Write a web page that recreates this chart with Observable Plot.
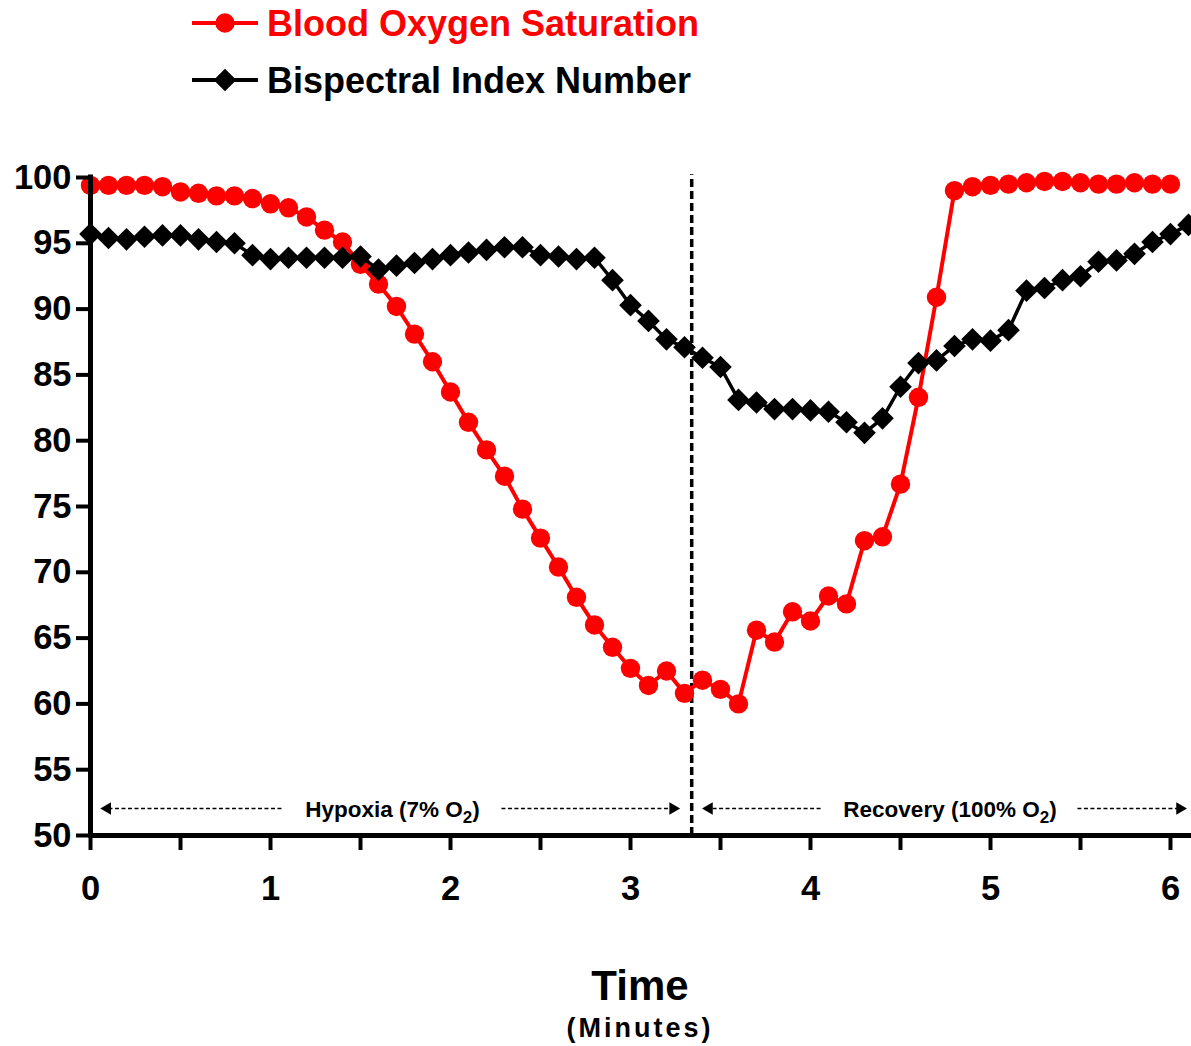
<!DOCTYPE html>
<html>
<head>
<meta charset="utf-8">
<script src="https://cdn.jsdelivr.net/npm/d3@7"></script>
<script src="https://cdn.jsdelivr.net/npm/@observablehq/plot@0.6"></script>
<style>
  body { margin: 0; background: #fff; }
  #wrap { position: relative; width: 1191px; height: 1046px; overflow: hidden; background: #fff;
          font-family: "Liberation Sans", Arial, sans-serif; }
  #legend { position: absolute; left: 0; top: 0; }
  #chart { position: absolute; left: 0; top: 130px; }
  .xt { position: absolute; left: 440px; width: 400px; text-align: center; font-weight: bold; color: #000; }
  #xtitle { top: 965px; font-size: 42px; line-height: 42px; }
  #xsub { top: 1015px; font-size: 27px; line-height: 27px; letter-spacing: 3px; }
</style>
</head>
<body>
<div id="wrap">
  <svg id="legend" width="1191" height="130"></svg>
  <div id="chart"></div>
  <div class="xt" id="xtitle">Time</div>
  <div class="xt" id="xsub">(Minutes)</div>
</div>
<script>
// ---- data ----
const minutes = [0.0,0.1,0.2,0.3,0.4,0.5,0.6,0.7,0.8,0.9,1.0,1.1,1.2,1.3,1.4,1.5,1.6,1.7,1.8,1.9,
  2.0,2.1,2.2,2.3,2.4,2.5,2.6,2.7,2.8,2.9,3.0,3.1,3.2,3.3,3.4,3.5,3.6,3.7,3.8,3.9,
  4.0,4.1,4.2,4.3,4.4,4.5,4.6,4.7,4.8,4.9,5.0,5.1,5.2,5.3,5.4,5.5,5.6,5.7,5.8,5.9,6.0,6.1];

const bloodOxygen = [99.4,99.4,99.4,99.4,99.3,98.9,98.8,98.6,98.6,98.4,98.0,97.7,97.0,96.0,95.1,93.4,91.9,90.2,88.1,86.0,
  83.7,81.4,79.3,77.3,74.8,72.6,70.4,68.1,66.0,64.3,62.7,61.4,62.5,60.8,61.8,61.1,60.0,65.6,64.7,67.0,
  66.3,68.2,67.6,72.4,72.7,76.7,83.3,90.9,99.0,99.3,99.4,99.5,99.6,99.7,99.7,99.6,99.5,99.5,99.6,99.5,99.5];

const bispectral = [95.7,95.4,95.3,95.5,95.6,95.6,95.3,95.1,95.0,94.1,93.8,93.9,93.9,93.9,93.9,94.0,93.0,93.3,93.5,93.8,
  94.1,94.3,94.5,94.7,94.7,94.1,94.0,93.8,93.9,92.2,90.3,89.1,87.7,87.1,86.3,85.6,83.1,82.9,82.4,82.4,
  82.3,82.2,81.4,80.6,81.7,84.1,85.9,86.1,87.2,87.7,87.6,88.4,91.4,91.6,92.2,92.5,93.6,93.7,94.2,95.1,95.7,96.4];

const seriesNames = ["Blood Oxygen Saturation", "Bispectral Index Number"];
const yTicks = [50,55,60,65,70,75,80,85,90,95,100];
const xTicks = [0,0.5,1,1.5,2,2.5,3,3.5,4,4.5,5,5.5,6];
const xTickLabels = ["0","","1","","2","","3","","4","","5","","6"];
const phaseSwitch = [3.34];
const phaseNames = ["Hypoxia (7% O2)", "Recovery (100% O2)"];
const phaseCenters = [1.678, 4.775];
const phaseLevel = 52.05;
const arrowFrom = [1.061, 2.283, 4.056, 5.483];
const arrowTo   = [0.094, 3.236, 3.437, 6.052];
const xMax = 6.1167;

// ---- tables built from the arrays ----
const spo2 = bloodOxygen.map((v, i) => ({t: minutes[i], v}));
const bisD = bispectral.map((v, i) => ({t: minutes[i], v}));
const arrows = arrowFrom.map((a, i) => ({x1: a, x2: arrowTo[i], y: phaseLevel, dir: arrowTo[i] > a ? 90 : -90}));
const labels = phaseNames.map((s, i) => ({x: phaseCenters[i], y: phaseLevel, s}));

const FONT = "Liberation Sans, Arial, sans-serif";
const RED = "#ff0000";
const DIAMOND_R = 10.2;

const plot = Plot.plot({
  width: 1191,
  height: 785,
  marginTop: 47,
  marginBottom: 80,
  marginLeft: 90,
  marginRight: 0,
  x: {domain: [0, xMax]},
  y: {domain: [50, 100]},
  style: {fontFamily: FONT, overflow: "visible", background: "transparent"},
  marks: [
    Plot.ruleX(phaseSwitch, {y1: 50, y2: 100.2, stroke: "#000", strokeWidth: 3.5, strokeDasharray: "8,4"}),
    Plot.link(arrows, {x1: "x1", x2: "x2", y1: "y", y2: "y", stroke: "#000", strokeWidth: 1.6, strokeDasharray: "4,2.5"}),
    Plot.dot(arrows, {x: "x2", y: "y", symbol: "triangle", r: 4.6, fill: "#000", rotate: "dir"}),
    Plot.text(labels, {x: "x", y: "y", text: "s", fontSize: 22.5, fontWeight: "bold", fill: "#000", dy: 1, textAnchor: "middle", fontFamily: FONT, letterSpacing: "0.6px"}),
    Plot.line(spo2, {x: "t", y: "v", stroke: RED, strokeWidth: 4}),
    Plot.dot(spo2, {x: "t", y: "v", r: 9.7, fill: RED, stroke: "none", symbol: "circle"}),
    Plot.line(bisD, {x: "t", y: "v", stroke: "#000", strokeWidth: 3.5}),
    Plot.ruleX([0], {y1: 50, y2: 100, stroke: "#000", strokeWidth: 5, strokeLinecap: "square"}),
    Plot.ruleY([50], {x1: 0, x2: xMax, stroke: "#000", strokeWidth: 5}),
    Plot.dot(bisD, {x: "t", y: "v", r: DIAMOND_R, fill: "#000", stroke: "none", symbol: "diamond2"}),
    Plot.axisY({ticks: yTicks, tickSize: 14, tickPadding: 5, strokeWidth: 4, fontSize: 34.5, fontWeight: "bold", fill: "#000", color: "#000", label: null, tickFormat: d => String(d)}),
    Plot.axisX({ticks: xTicks, tickSize: 15, tickPadding: 25, strokeWidth: 4, fontSize: 34.5, fontWeight: "bold", fill: "#000", color: "#000", label: null,
      tickFormat: d => xTickLabels[xTicks.indexOf(d)]})
  ]
});
document.getElementById("chart").appendChild(plot);

// subscript "2" in O2 labels
d3.select(plot).selectAll("text").each(function () {
  const el = this;
  const txt = el.textContent;
  if (/O2\)$/.test(txt) && el.children.length === 0) {
    const head = txt.slice(0, -2);
    el.textContent = "";
    const ns = "http://www.w3.org/2000/svg";
    const t1 = document.createElementNS(ns, "tspan"); t1.textContent = head; el.appendChild(t1);
    const t2 = document.createElementNS(ns, "tspan"); t2.textContent = "2"; t2.setAttribute("dy", "6"); t2.setAttribute("font-size", "17"); el.appendChild(t2);
    const t3 = document.createElementNS(ns, "tspan"); t3.textContent = ")"; t3.setAttribute("dy", "-6"); el.appendChild(t3);
  }
});

// legend
const lg = d3.select("#legend");
const rows = [{name: seriesNames[0], color: RED, sym: d3.symbolCircle, size: Math.PI * 9.7 * 9.7, y: 23},
              {name: seriesNames[1], color: "#000", sym: d3.symbolDiamond2, size: Math.PI * DIAMOND_R * DIAMOND_R, y: 80}];
rows.forEach(r => {
  lg.append("line").attr("x1", 192).attr("x2", 258).attr("y1", r.y).attr("y2", r.y)
    .attr("stroke", r.color).attr("stroke-width", 4);
  lg.append("path").attr("d", d3.symbol(r.sym, r.size)()).attr("transform", `translate(225,${r.y})`).attr("fill", r.color);
  lg.append("text").attr("x", 267).attr("y", r.y + 12.5).attr("font-family", FONT).attr("font-size", 36)
    .attr("font-weight", "bold").attr("fill", r.color).text(r.name);
});
</script>
</body>
</html>
